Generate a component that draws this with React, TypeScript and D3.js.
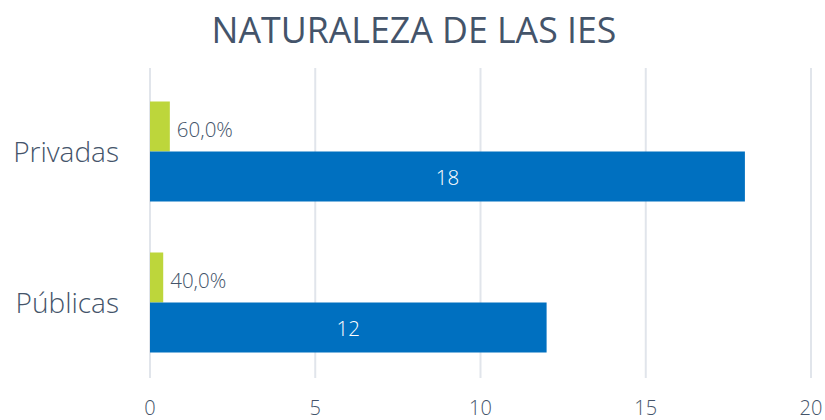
import React from "react";
import * as d3 from "d3";

const categories = ["Privadas", "Públicas"];
const counts = [18, 12];
const shares = [0.6, 0.4];
const shareLabels = ["60,0%", "40,0%"];
const xTicks = [0, 5, 10, 15, 20];
const title = "NATURALEZA DE LAS IES";

const W = 825;
const H = 420;
const FONT = "'Open Sans', sans-serif";
const TEXT = "#44546A";

export default function App() {
  const x = d3.scaleLinear().domain([0, 20]).range([150, 811]);
  const y = d3.scaleBand().domain(categories).range([76, 378]).paddingInner(0).paddingOuter(0);
  const bw = y.bandwidth();
  const barH = 50;
  return (
    <svg width={W} height={H} style={{ position: "absolute", left: 0, top: 0, background: "#fff" }}>
      <text x={414} y={43} textAnchor="middle" fontFamily={FONT} fontSize={35.7} fill={TEXT}>
        {title}
      </text>
      {xTicks.map((t) => (
        <g key={t}>
          <line x1={x(t)} x2={x(t)} y1={68} y2={378} stroke="#E1E5EB" strokeWidth={2} />
          <text x={x(t)} y={415} textAnchor="middle" fontFamily={FONT} fontWeight={350} fontSize={20} fill={TEXT}>
            {t}
          </text>
        </g>
      ))}
      {categories.map((c, i) => {
        const mid = (y(c) as number) + bw / 2;
        return (
          <g key={c}>
            <rect x={x(0)} y={mid - barH} width={x(shares[i]) - x(0)} height={barH} fill="#BDD63B" />
            <rect x={x(0)} y={mid} width={x(counts[i]) - x(0)} height={barH} fill="#0070C0" />
            <text x={x(shares[i]) + 7} y={mid - 15} fontFamily={FONT} fontWeight={350} fontSize={20.5} fill={TEXT}>
              {shareLabels[i]}
            </text>
            <text x={(x(0) + x(counts[i])) / 2} y={mid + 33} textAnchor="middle" fontFamily={FONT} fontWeight={350} fontSize={20.5} fill="#fff">
              {counts[i]}
            </text>
            <text x={119} y={mid + 10} textAnchor="end" fontFamily={FONT} fontWeight={350} fontSize={28} fill={TEXT}>
              {c}
            </text>
          </g>
        );
      })}
    </svg>
  );
}
